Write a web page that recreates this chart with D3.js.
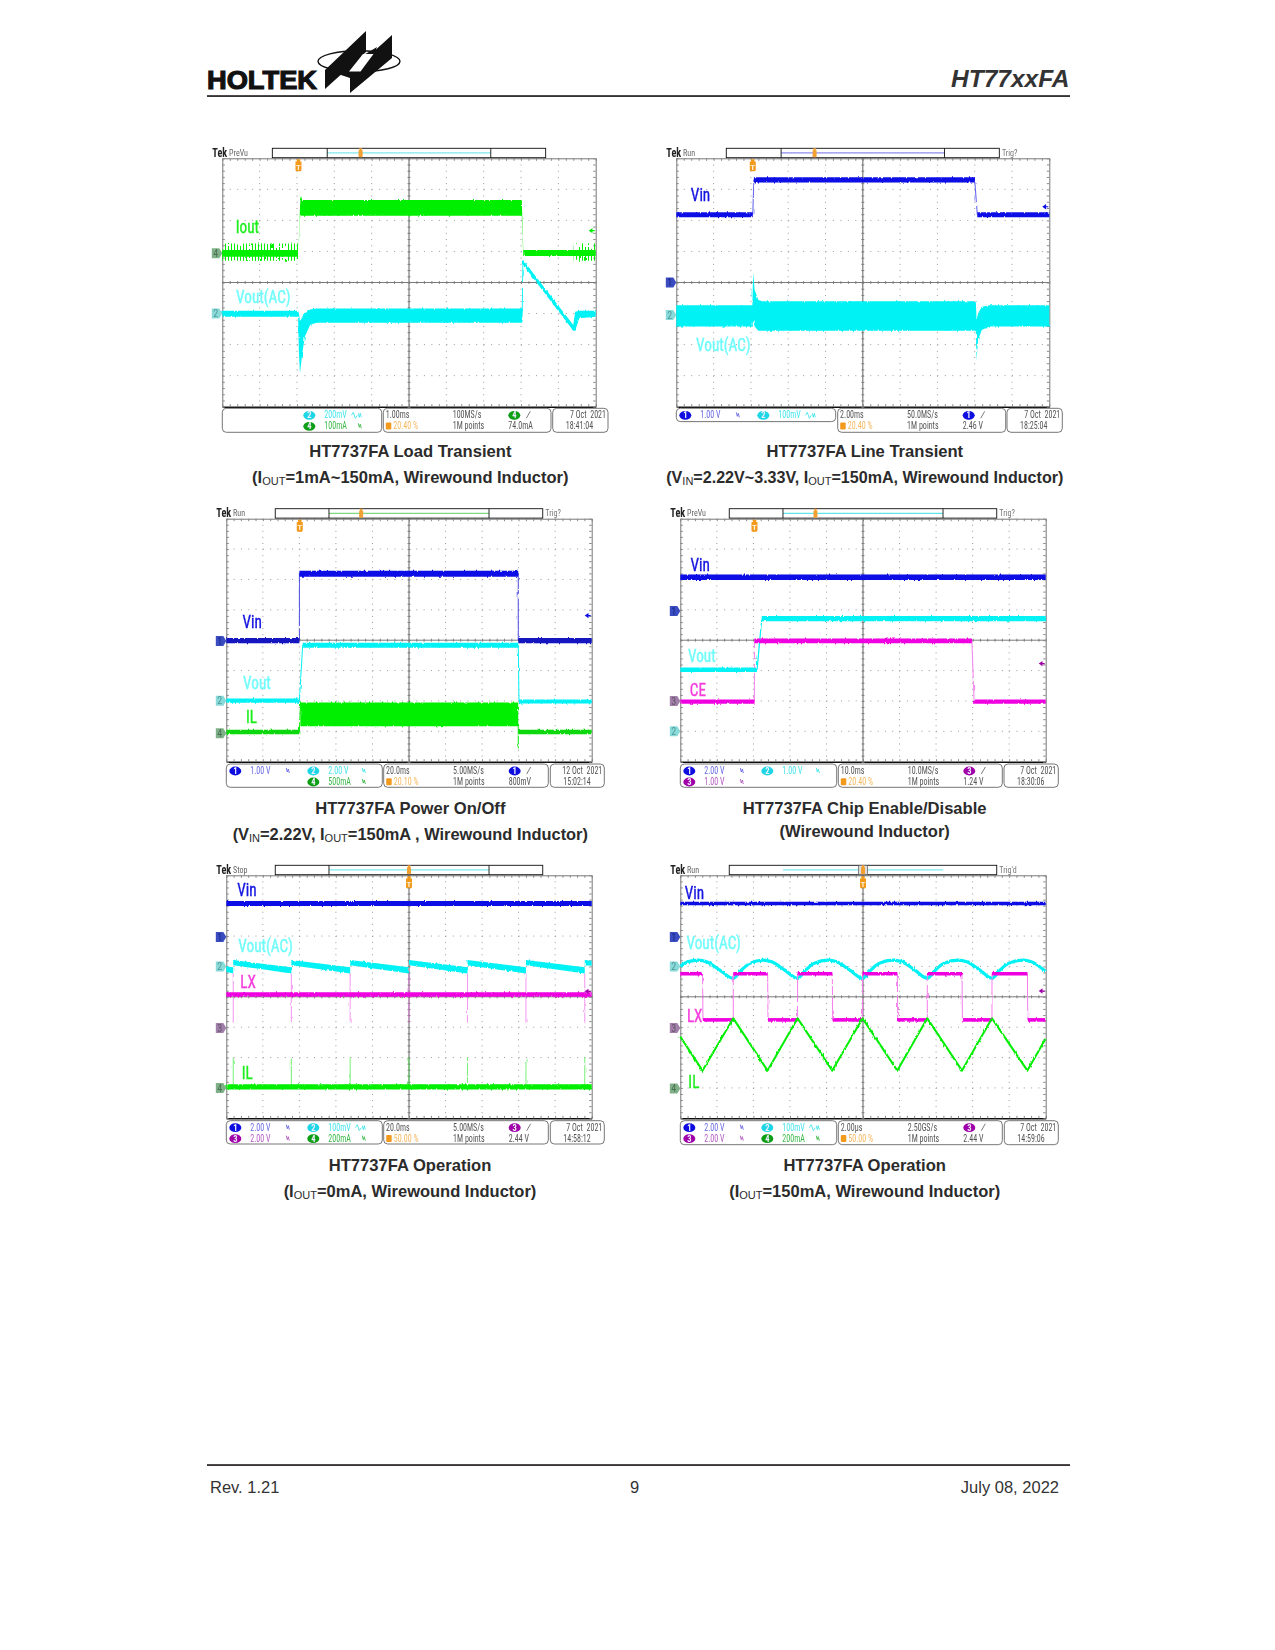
<!DOCTYPE html>
<html><head><meta charset="utf-8">
<script src="https://cdn.jsdelivr.net/npm/d3@7/dist/d3.min.js"></script>
<style>
html,body{margin:0;padding:0;background:#fff}
svg{display:block}
text{font-family:"Liberation Sans",Arial,sans-serif}
.n{font-family:"Liberation Sans Narrow","Roboto Condensed","Liberation Sans",sans-serif}
</style></head><body>
<svg id="page" width="1275" height="1650"></svg>
<script>
// ---------- trace values, in oscilloscope divisions (x 0..10, row 0..8 from the top) ----------
// Panel 1: load transient
const p1IoutT=[2.04,2.08,2.10,2.14,8.02,8.06], p1IoutHi=[3.0,1.6,1.18,1.34,1.34,2.95], p1IoutLo=[3.1,1.85,1.85,1.85,1.85,3.15];
const p1IoutIdleT=[0,2.03], p1IoutIdleHi=[2.95,2.95], p1IoutIdleLo=[3.17,3.17];
const p1IoutHairA=[0,2.03], p1IoutHairHi=[2.74,2.74], p1IoutHairLo=[3.30,3.30];
const p1IoutTailT=[8.06,10], p1IoutTailHi=[2.95,2.95], p1IoutTailLo=[3.15,3.15];
const p1IoutHairB=[9.41,10];
const p1VoutT=[0,2.03,2.05,2.08,2.14,2.21,2.35,2.53,8.02,8.04,8.06,9.40,9.45,9.56,10];
const p1VoutHi=[4.91,4.91,5.0,5.21,5.1,5.0,4.87,4.84,4.84,3.28,3.28,5.37,4.94,4.91,4.91];
const p1VoutLo=[5.1,5.1,6.2,6.93,6.3,5.75,5.37,5.3,5.3,5.3,3.44,5.55,5.55,5.15,5.1];
// Panel 2: line transient
const p2VinLowAT=[0,2.05], p2VinLowHi=[1.74,1.74], p2VinLowLo=[1.9,1.9];
const p2VinHighT=[2.08,8.0], p2VinHighHi=[0.61,0.61], p2VinHighLo=[0.78,0.78];
const p2VinLowBT=[8.07,10];
const p2VinStepT=[2.05,2.08,8.0,8.07], p2VinStepV=[1.82,0.7,0.7,1.82];
const p2VoutT=[0,2.04,2.06,2.10,2.2,2.3,8.0,8.03,8.05,8.09,8.19,8.4,10];
const p2VoutHi=[4.73,4.73,3.65,4.24,4.56,4.6,4.6,4.6,5.2,5.0,4.78,4.73,4.73];
const p2VoutLo=[5.42,5.42,5.2,5.42,5.55,5.55,5.55,5.55,6.48,5.85,5.53,5.42,5.42];
// Panel 3: power on/off
const p3VinLowAT=[0,2.0], p3VinLowBT=[7.99,10], p3VinLowHi=[3.93,3.93], p3VinLowLo=[4.1,4.1];
const p3VinHighT=[2.0,7.99], p3VinHighHi=[1.71,1.71], p3VinHighLo=[1.91,1.91];
const p3VinStepT=[2.0,2.0,7.99,7.99], p3VinStepV=[4.0,1.8,1.8,4.0];
const p3VoutLowAT=[0,2.0], p3VoutLowAHi=[5.92,5.92], p3VoutLowALo=[6.06,6.06];
const p3VoutHighT=[2.09,7.99], p3VoutHighHi=[4.08,4.08], p3VoutHighLo=[4.25,4.25];
const p3VoutLowBT=[8.01,10], p3VoutLowBHi=[5.95,5.95], p3VoutLowBLo=[6.08,6.08];
const p3VoutStepT=[2.0,2.09,7.99,8.01], p3VoutStepV=[6.0,4.17,4.17,6.0];
const p3IlLowAT=[0,2.0], p3IlLowBT=[7.99,10], p3IlLowHi=[6.95,6.95], p3IlLowLo=[7.1,7.1];
const p3IlHighT=[2.03,7.99], p3IlHighHi=[6.05,6.05], p3IlHighLo=[6.83,6.83];
const p3IlStepT=[2.0,2.03], p3IlStepV=[7.02,6.1];
const p3IlDropT=[7.99,7.99], p3IlDropV=[6.8,7.56];
// Panel 4: chip enable
const p4VinT=[0,10], p4VinHi=[1.84,1.84], p4VinLo=[2.02,2.02];
const p4VoutLowT=[0,2.1], p4VoutLowHi=[4.9,4.9], p4VoutLowLo=[5.05,5.05];
const p4VoutHighT=[2.23,10], p4VoutHighHi=[3.2,3.2], p4VoutHighLo=[3.38,3.38];
const p4VoutStepT=[2.1,2.23], p4VoutStepV=[4.97,3.29];
const p4CeLowAT=[0,2.03], p4CeLowBT=[8.04,10], p4CeLowHi=[5.95,5.95], p4CeLowLo=[6.09,6.09];
const p4CeHighT=[2.03,7.98], p4CeHighHi=[3.94,3.94], p4CeHighLo=[4.1,4.1];
const p4CeStepT=[2.03,2.03,7.98,8.04], p4CeStepV=[6.02,4.02,4.02,6.02];
// Panel 5: operation, no load
const p5VinT=[0,10], p5VinHi=[0.85,0.85], p5VinLo=[1.01,1.01];
const p5LxT=[0,10], p5LxHi=[3.85,3.85], p5LxLo=[4.0,4.0];
const p5IlT=[0,10], p5IlHi=[6.88,6.88], p5IlLo=[7.05,7.05];
const p5PulseT=[0.19,1.78,3.39,5.0,6.6,8.2,9.81];
const p5LxSpikeTop=[3.23,3.23,3.23,3.23,3.23,3.23,3.23], p5LxSpikeBottom=[4.85,4.85,4.85,4.85,4.85,4.85,4.85];
const p5IlSpikeTop=[6.0,6.0,6.0,6.0,6.0,6.05,6.0], p5IlSpikeBottom=[6.95,6.95,6.95,6.95,6.95,6.95,6.95];
const p5VoutT=[0,0.19,0.19,1.78,1.78,3.39,3.39,5.0,5.0,6.6,6.6,8.2,8.2,9.81,9.81,10];
const p5VoutHi=[3.0,3.03,2.79,3.03,2.79,3.03,2.79,3.03,2.79,3.03,2.79,3.03,2.79,3.03,2.79,2.81];
const p5VoutLo=[3.18,3.23,2.96,3.23,2.96,3.23,2.96,3.23,2.96,3.23,2.96,3.23,2.96,3.23,2.96,2.98];
// Panel 6: operation, 150 mA
const p6VinT=[0,10], p6VinHi=[0.87,0.87], p6VinLo=[0.99,0.99];
const p6VoutT=[0,0.2,0.49,0.72,1.08,1.45,1.63,1.9,2.27,2.5,2.86,3.21,3.39,3.66,4.05,4.28,4.64,4.99,5.17,5.44,5.83,6.06,6.42,6.76,6.94,7.21,7.61,7.84,8.2,8.53,8.71,8.98,9.39,9.62,10];
const p6VoutV=[3.0,2.85,2.79,2.85,3.12,3.39,3.17,2.9,2.79,2.85,3.12,3.39,3.17,2.9,2.79,2.85,3.12,3.39,3.17,2.9,2.79,2.85,3.12,3.39,3.17,2.9,2.79,2.85,3.12,3.39,3.17,2.9,2.79,2.85,3.17];
const p6LxStepT=[0,0.61,0.62,1.45,1.45,2.39,2.40,3.21,3.21,4.16,4.17,4.99,4.99,5.94,5.95,6.76,6.76,7.71,7.72,8.53,8.53,9.5,9.51,10];
const p6LxStepV=[3.24,3.24,4.76,4.76,3.24,3.24,4.76,4.76,3.24,3.24,4.76,4.76,3.24,3.24,4.76,4.76,3.24,3.24,4.76,4.76,3.24,3.24,4.76,4.76];
const p6IlT=[0,0.61,1.45,2.39,3.21,4.16,4.99,5.94,6.76,7.71,8.53,9.5,10];
const p6IlV=[5.31,6.43,4.71,6.43,4.71,6.43,4.71,6.43,4.71,6.43,4.71,6.43,5.37];

// ---------- text ----------
const panelModes=["PreVu","Run","Run","PreVu","Stop","Run"];
const panelTrig=["","Trig?","Trig?","Trig?","","Trig'd"];
const timeScales=["1.00ms","2.00ms","20.0ms","10.0ms","20.0ms","2.00µs"];
const triggerPercents=["20.40 %","20.40 %","20.10 %","20.40 %","50.00 %","50.00 %"];
const sampleRates=["100MS/s","50.0MS/s","5.00MS/s","10.0MS/s","5.00MS/s","2.50GS/s"];
const triggerChannels=[4,1,1,3,3,3];
const triggerLevels=["74.0mA","2.46 V","800mV","1.24 V","2.44 V","2.44 V"];
const dates=["7 Oct\u00a0\u00a02021","7 Oct\u00a0\u00a02021","12 Oct\u00a0\u00a02021","7 Oct\u00a0\u00a02021","7 Oct\u00a0\u00a02021","7 Oct\u00a0\u00a02021"];
const times=["18:41:04","18:25:04","15:02:14","18:30:06","14:58:12","14:59:06"];
const triggerT=[2.04,2.05,2.01,2.03,5,5];
const caption1=["HT7737FA Load Transient","HT7737FA Line Transient","HT7737FA Power On/Off","HT7737FA Chip Enable/Disable","HT7737FA Operation","HT7737FA Operation"];
const caption2=[
 [["(I"],["OUT",1],["=1mA~150mA, Wirewound Inductor)"]],
 [["(V"],["IN",1],["=2.22V~3.33V, I"],["OUT",1],["=150mA, Wirewound Inductor)"]],
 [["(V"],["IN",1],["=2.22V, I"],["OUT",1],["=150mA , Wirewound Inductor)"]],
 [["(Wirewound Inductor)"]],
 [["(I"],["OUT",1],["=0mA, Wirewound Inductor)"]],
 [["(I"],["OUT",1],["=150mA, Wirewound Inductor)"]]];
// channel readouts: id, scale, AC?, column, row
const readouts=[
 [[2,"200mV",1,1,0],[4,"100mA",0,1,1]],
 [[1,"1.00 V",0,0,0],[2,"100mV",1,1,0]],
 [[1,"1.00 V",0,0,0],[2,"2.00 V",0,1,0],[4,"500mA",0,1,1]],
 [[1,"2.00 V",0,0,0],[2,"1.00 V",0,1,0],[3,"1.00 V",0,0,1]],
 [[1,"2.00 V",0,0,0],[2,"100mV",1,1,0],[3,"2.00 V",0,0,1],[4,"200mA",0,1,1]],
 [[1,"2.00 V",0,0,0],[2,"100mV",1,1,0],[3,"2.00 V",0,0,1],[4,"200mA",0,1,1]]];
const groundRefs=[[[4,3.06],[2,5.0]],[[1,4.0],[2,5.05]],[[1,4.03],[2,5.99],[4,7.06]],[[1,3.04],[3,6.0],[2,7.0]],[[1,2.03],[2,3.0],[3,5.03],[4,7.0]],[[1,2.03],[2,3.0],[3,5.03],[4,7.02]]];
const levelArrows=[[4,2.33],[1,1.56],[1,3.19],[3,4.77],[3,3.82],[3,3.81]];
const traceLabels=[
 [["Iout",4,.36,2.42],["Vout(AC)",2,.37,4.67]],
 [["Vin",1,.39,1.36],["Vout(AC)",2,.53,6.21]],
 [["Vin",1,.44,3.59],["Vout",2,.46,5.62],["IL",4,.54,6.74]],
 [["Vin",1,.28,1.72],["Vout",2,.21,4.71],["CE",3,.26,5.84]],
 [["Vin",1,.30,.68],["Vout(AC)",2,.33,2.51],["LX",3,.38,3.72],["IL",4,.42,6.7]],
 [["Vin",1,.12,.77],["Vout(AC)",2,.17,2.43],["LX",3,.18,4.83],["IL",4,.22,7.0]]];

// ---------- style and layout ----------
const trace={1:"#0a0ae6",2:"#00f2f5",3:"#f000e0",4:"#00ee00"};
const labelCol={1:"#1414e0",2:"#70fbfb",3:"#f43cdc",4:"#20ee20"};
const badge={1:"#1010e0",2:"#1fd6e6",3:"#a000a8",4:"#0a9e14"};
const readCol={1:"#6a6ae6",2:"#45e4ea",3:"#b45cc0",4:"#3cb84a"};
const refCol={1:"#3a4cc0",2:"#8adada",3:"#a080a8",4:"#80b088"};
const refText={1:"#18268c",2:"#4f9a9a",3:"#68506e",4:"#4a7052"};
const miniCol=["#7fe9ee","#8c8cf0","#7fd87f","#5fe6ea","#7fe9ee","#7fe9ee"];
const caption2Size=[16.5,16.1,16.4,16.5,16.5,16.5];
const frames=[
 {l:222.3,r:595.7,t:158.3,b:406.7,bt:408.3,bh:24,a:[222.3,381.7],bb:[383.3,551],c:[552.7,608],cx:410.3,y1:457.3,y2:483.3},
 {l:676.3,r:1049.3,t:158.3,b:406.7,bt:408.3,bh:24,a:[676.3,835.7],bb:[837.7,1005.7],c:[1007,1062.3],cx:864.8,y1:457.3,y2:483.3,short:1},
 {l:226.3,r:591.7,t:518.7,b:761.7,bt:764,bh:23.3,a:[226.3,382.3],bb:[383.7,548.3],c:[550.3,604.3],cx:410.3,y1:814,y2:840},
 {l:680.3,r:1045.7,t:518.7,b:761.7,bt:764,bh:23.3,a:[680.3,836.7],bb:[838.3,1002.3],c:[1004,1058.3],cx:864.7,y1:814,y2:837.3},
 {l:226.3,r:591.7,t:875.3,b:1118.3,bt:1120.7,bh:23.3,a:[226.3,382.3],bb:[383.7,548.3],c:[550.3,604.3],cx:410,y1:1171,y2:1197.3},
 {l:680.3,r:1045.7,t:875.3,b:1118.3,bt:1120.7,bh:24,a:[680.3,836.7],bb:[838.3,1002.3],c:[1004.3,1058.3],cx:864.7,y1:1171,y2:1197.3}];

const svg=d3.select("#page");
const defs=svg.append("defs");
defs.append("filter").attr("id","soft").attr("x","-2%").attr("y","-2%").attr("width","104%").attr("height","104%")
  .append("feGaussianBlur").attr("stdDeviation",0.42);
// oscilloscope edge fuzz: a rendering style only, the values stay those read above
const fuzz=defs.append("filter").attr("id","fuzz").attr("filterUnits","userSpaceOnUse").attr("x",200).attr("y",140).attr("width",880).attr("height",1000);
fuzz.append("feTurbulence").attr("type","fractalNoise").attr("baseFrequency","0.55 0.12").attr("numOctaves",2).attr("seed",7).attr("result","n");
fuzz.append("feDisplacementMap").attr("in","SourceGraphic").attr("in2","n").attr("scale",2.6).attr("xChannelSelector","G").attr("yChannelSelector","R");
defs.append("pattern").attr("id","hair").attr("patternUnits","userSpaceOnUse").attr("width",3).attr("height",10)
  .append("rect").attr("width",1).attr("height",10).attr("fill",trace[4]);

// squeeze a text horizontally to the narrow glyphs of the scope screen
const squeeze=(sel,k)=>sel.each(function(){const w=this.getComputedTextLength();d3.select(this).attr("textLength",w*k).attr("lengthAdjust","spacingAndGlyphs");});

// ---------- page furniture ----------
const ink="#231f20";
svg.append("rect").attr("x",207).attr("y",95.2).attr("width",863).attr("height",1.7).attr("fill",ink);
svg.append("rect").attr("x",207).attr("y",1464.2).attr("width",863).attr("height",1.7).attr("fill",ink);
svg.append("text").attr("x",1069.5).attr("y",87).attr("text-anchor","end").attr("font-size",24.5).attr("font-weight",700).attr("font-style","italic").attr("fill","#333").text("HT77xxFA");
[["Rev. 1.21",210,"start"],["9",634.5,"middle"],["July 08, 2022",1059,"end"]].forEach(d=>
  svg.append("text").attr("x",d[1]).attr("y",1493).attr("text-anchor",d[2]).attr("font-size",16.5).attr("fill","#333").text(d[0]));
// logo
const logo=svg.append("g");
logo.append("ellipse").attr("cx",359).attr("cy",61.3).attr("rx",41).attr("ry",10.6).attr("fill","none").attr("stroke","#111").attr("stroke-width",1.4);
logo.append("path").attr("fill","#111").attr("d","M325 89V70L366 31V52ZM350 93V73L392 35V58ZM338 74L352 62L377 47L368 68L350 78Z");
logo.append("path").attr("fill","#fff").attr("d","M349 71.5H360.5L373.5 54H363Z");
logo.append("text").attr("x",207).attr("y",89).attr("font-size",25).attr("font-weight",700).attr("textLength",110).attr("lengthAdjust","spacingAndGlyphs").attr("fill","#111").attr("stroke","#111").attr("stroke-width",1.1).text("HOLTEK");

// ---------- panels ----------
function drawPanel(i,drawTraces){
  const f=frames[i], w=f.r-f.l, h=f.b-f.t;
  const x=d3.scaleLinear([0,10],[f.l,f.r]), y=d3.scaleLinear([0,8],[f.t,f.b]);
  const g=svg.append("g").attr("filter","url(#soft)");
  // dotted graticule
  const grid=g.append("g").attr("stroke","#9a9a9a").attr("stroke-width",1);
  grid.selectAll(".gh").data(d3.range(1,8)).join("line").attr("x1",f.l).attr("x2",f.r).attr("y1",d=>y(d)).attr("y2",d=>y(d)).attr("stroke-dasharray",`1 ${w/50-1}`);
  grid.selectAll(".gv").data(d3.range(1,10)).join("line").attr("y1",f.t).attr("y2",f.b).attr("x1",d=>x(d)).attr("x2",d=>x(d)).attr("stroke-dasharray",`1 ${h/40-1}`);
  // frame & tick axes
  const minorX=d3.range(0,10.01,.2), minorY=d3.range(0,8.01,.2);
  const ax=(s,t)=>g.append("g").call(s).call(a=>a.selectAll("path").attr("stroke",t.c).attr("stroke-width",t.w))
     .call(a=>a.selectAll("line").attr("stroke",t.tc||"#8a8a8a")).attr("transform",t.tr).call(a=>a.selectAll("text").remove());
  ax(d3.axisBottom(x).tickValues(minorX).tickSize(2.5).tickSizeOuter(0),{c:"#777",w:1,tr:`translate(0,${f.t})`});
  ax(d3.axisTop(x).tickValues(minorX).tickSize(2.5).tickSizeOuter(0),{c:"#111",w:1.6,tr:`translate(0,${f.b})`});
  ax(d3.axisRight(y).tickValues(minorY).tickSize(2.5).tickSizeOuter(0),{c:"#777",w:1,tr:`translate(${f.l},0)`});
  ax(d3.axisLeft(y).tickValues(minorY).tickSize(2.5).tickSizeOuter(0),{c:"#777",w:1,tr:`translate(${f.r},0)`});
  [[d3.axisBottom(x).tickValues(minorX),`translate(0,${y(4)-1.5})`],[d3.axisRight(y).tickValues(minorY),`translate(${x(5)-1.5},0)`]].forEach(d=>{
    ax(d[0].tickSize(3).tickSizeOuter(0),{c:"none",w:0,tr:d[1]});
  });
  g.append("line").attr("x1",f.l).attr("x2",f.r).attr("y1",y(4)).attr("y2",y(4)).attr("stroke","#7a7a7a").attr("stroke-width",1);
  g.append("line").attr("x1",x(5)).attr("x2",x(5)).attr("y1",f.t).attr("y2",f.b).attr("stroke","#7a7a7a").attr("stroke-width",1.2);

  const plot=g.append("g").attr("filter","url(#fuzz)");
  const api={
    band(T,Hi,Lo,c,fill){
      plot.append("path").attr("fill",fill||c).attr("d",d3.area().x((d,k)=>x(T[k])).y0((d,k)=>y(Hi[k])).y1((d,k)=>y(Lo[k]))(T));
    },
    line(T,V,c,lw,op,curve){
      const ln=d3.line().x((d,k)=>x(T[k])).y((d,k)=>y(V[k]));
      if(curve) ln.curve(curve);
      plot.append("path").attr("fill","none").attr("stroke",c).attr("stroke-width",lw).attr("stroke-opacity",op==null?1:op).attr("stroke-linejoin","round").attr("d",ln(T));
    },
    spikes(T,Top,Bot,c){
      plot.selectAll(null).data(T).join("line").attr("x1",d=>x(d)).attr("x2",d=>x(d)).attr("y1",(d,k)=>y(Top[k])).attr("y2",(d,k)=>y(Bot[k])).attr("stroke",c).attr("stroke-width",.9).attr("stroke-opacity",.75);
    }
  };
  drawTraces(api);
  // trace labels
  g.selectAll(".tl").data(traceLabels[i]).join("text").attr("class","n").attr("x",d=>x(d[2])).attr("y",d=>y(d[3])).attr("font-size",17.5).attr("fill",d=>labelCol[d[1]]).attr("stroke",d=>labelCol[d[1]]).attr("stroke-width",.35).text(d=>d[0]).call(squeeze,.87);
  // channel ground references
  groundRefs[i].forEach(d=>{
    const yy=y(d[1]), rg=g.append("g").attr("transform",`translate(${f.l},${yy})`);
    rg.append("path").attr("d","M-10.5 -5H-3L0 0L-3 5H-10.5Z").attr("fill",refCol[d[0]]);
    rg.append("text").attr("class","n").attr("x",-6.7).attr("y",3.6).attr("text-anchor","middle").attr("font-size",10).attr("fill",refText[d[0]]).text(d[0]);
  });
  // level arrow
  g.append("path").attr("transform",`translate(${f.r-2.5},${y(levelArrows[i][1])})`).attr("d","M-4.5 0L-.7 -2.7V2.7Z M-1 -.6H1.5V.6H-1Z").attr("fill",trace[levelArrows[i][0]]==trace[3]?badge[3]:trace[levelArrows[i][0]]);
  // trigger position marker
  const tx=x(triggerT[i]);
  g.append("path").attr("transform",`translate(${tx},${f.t})`).attr("d","M-2 1H2L1.5 3.2H3V11.5Q3 13 1.5 13H-1.5Q-3 13 -3 11.5V3.2H-1.5Z").attr("fill","#f29a1f");
  g.append("text").attr("x",tx).attr("y",f.t+11.5).attr("text-anchor","middle").attr("font-size",8).attr("font-weight",700).attr("fill","#fff2dc").text("T");
  // record bar
  const fx=p=>f.l+w*p, bar=g.append("g");
  bar.append("rect").attr("x",fx(.134)).attr("y",f.t-10).attr("width",w*.732).attr("height",9.4).attr("fill","#fff").attr("stroke","#111").attr("stroke-width",.9);
  if(i<5){
    bar.append("line").attr("x1",fx(.281)).attr("x2",fx(.719)).attr("y1",f.t-5.4).attr("y2",f.t-5.4).attr("stroke",miniCol[i]).attr("stroke-width",1.2);
    [.281,.719].forEach(p=>bar.append("line").attr("x1",fx(p)).attr("x2",fx(p)).attr("y1",f.t-10).attr("y2",f.t-.6).attr("stroke","#111").attr("stroke-width",.9));
  } else {
    [[.281,.487],[.513,.719]].forEach(p=>bar.append("line").attr("x1",fx(p[0])).attr("x2",fx(p[1])).attr("y1",f.t-5.4).attr("y2",f.t-5.4).attr("stroke",miniCol[i]).attr("stroke-width",1.2));
    bar.append("rect").attr("x",fx(.488)).attr("y",f.t-10).attr("width",w*.024).attr("height",9.4).attr("fill","#ddd").attr("stroke","#555").attr("stroke-width",.7);
  }
  const mx=i<4?fx(.281)+(fx(.719)-fx(.281))*triggerT[i]/10:fx(.5);
  bar.append("path").attr("transform",`translate(${mx},${f.t-10})`).attr("d","M-1.5 0H1.5L1 2H2V8Q2 9 1 9H-1Q-2 9 -2 8V2H-1Z").attr("fill","#f2a030");
  // header text
  g.append("text").attr("class","n").attr("x",f.l-10).attr("y",f.t-1.5).attr("font-size",12).attr("font-weight",700).attr("fill","#222").text("Tek").call(squeeze,.85);
  g.append("text").attr("class","n").attr("x",f.l+6.8).attr("y",f.t-2.5).attr("font-size",9.8).attr("fill","#666").text(panelModes[i]).call(squeeze,.82);
  if(panelTrig[i]) g.append("text").attr("class","n").attr("x",fx(.866)+2.6).attr("y",f.t-2.5).attr("font-size",9.8).attr("fill","#777").text(panelTrig[i]).call(squeeze,.82);

  // status boxes
  const st=g.append("g");
  const box=(a,hh)=>st.append("rect").attr("x",a[0]).attr("y",f.bt).attr("width",a[1]-a[0]).attr("height",hh).attr("rx",4).attr("fill","#fff").attr("stroke","#666").attr("stroke-width",.9);
  box(f.a,f.short?13.3:f.bh); box(f.bb,f.bh); box(f.c,f.bh);
  const r0=f.bt+10, r1=f.bt+21;
  const txt=(s,xx,yy,c,anchor)=>st.append("text").attr("class","n").attr("x",xx).attr("y",yy).attr("font-size",10).attr("fill",c).attr("text-anchor",anchor||"start").text(s).call(squeeze,.8);
  const chip=(ch,cx,yy)=>{
    st.append("ellipse").attr("cx",cx).attr("cy",yy-3).attr("rx",6).attr("ry",4.4).attr("fill",badge[ch]);
    st.append("text").attr("class","n").attr("x",cx).attr("y",yy).attr("font-size",8.5).attr("font-weight",700).attr("text-anchor","middle").attr("fill","#eef").text(ch);
  };
  readouts[i].forEach(d=>{
    const base=d[3]?87:9, yy=d[4]?r1:r0, ax0=f.a[0];
    chip(d[0],ax0+base,yy);
    txt(d[1],ax0+base+15,yy,readCol[d[0]]);
    const ix=ax0+base+(d[3]?49:51);
    const ic=st.append("path").attr("fill","none").attr("stroke",readCol[d[0]]).attr("stroke-width",.9);
    ic.attr("d",d[2]?`M${ix-7} ${yy-3}l2 -3l2 6l2 -3 M${ix} ${yy-5}l1 4l1 -4l1 4`:`M${ix} ${yy-6}l1 4l1 -3l1 4`);
  });
  const bx=f.bb[0];
  txt(timeScales[i],bx+2.4,r0,"#555");
  st.append("rect").attr("x",bx+2.5).attr("y",r1-6.7).attr("width",5.5).attr("height",7).attr("rx",1).attr("fill","#f29a1f");
  txt(triggerPercents[i],bx+10,r1,"#f4b860");
  txt(sampleRates[i],bx+69.4,r0,"#555");
  txt("1M points",bx+69.4,r1,"#555");
  chip(triggerChannels[i],bx+131,r0);
  st.append("path").attr("d",`M${bx+143} ${r0}l4 -7`).attr("stroke","#444").attr("stroke-width",.7);
  txt(triggerLevels[i],bx+125,r1,"#555");
  txt(dates[i],f.c[1]-2,r0,"#555","end");
  txt(times[i],f.c[0]+13,r1,"#555");

  // captions (not blurred)
  svg.append("text").attr("x",f.cx).attr("y",f.y1).attr("text-anchor","middle").attr("font-size",16.6).attr("font-weight",700).attr("fill","#2b2b2b").text(caption1[i]);
  const c2=svg.append("text").attr("x",f.cx).attr("y",f.y2).attr("text-anchor","middle").attr("font-size",caption2Size[i]).attr("font-weight",700).attr("fill","#2b2b2b");
  caption2[i].forEach(p=>{
    const s=c2.append("tspan").text(p[0]);
    if(p[1]) s.attr("font-size",11).attr("font-weight",400).attr("baseline-shift","-1.5");
  });
}

drawPanel(0,p=>{
  p.band(p1IoutHairA,p1IoutHairHi,p1IoutHairLo,trace[4],"url(#hair)");
  p.band(p1IoutIdleT,p1IoutIdleHi,p1IoutIdleLo,trace[4]);
  p.band(p1IoutT,p1IoutHi,p1IoutLo,trace[4]);
  p.band(p1IoutTailT,p1IoutTailHi,p1IoutTailLo,trace[4]);
  p.band(p1IoutHairB,p1IoutHairHi,p1IoutHairLo,trace[4],"url(#hair)");
  p.band(p1VoutT,p1VoutHi,p1VoutLo,trace[2]);
});
drawPanel(1,p=>{
  p.line(p2VinStepT,p2VinStepV,"#6a6af0",1.1);
  p.band(p2VinLowAT,p2VinLowHi,p2VinLowLo,trace[1]);
  p.band(p2VinHighT,p2VinHighHi,p2VinHighLo,trace[1]);
  p.band(p2VinLowBT,p2VinLowHi,p2VinLowLo,trace[1]);
  p.band(p2VoutT,p2VoutHi,p2VoutLo,trace[2]);
});
drawPanel(2,p=>{
  p.line(p3VinStepT,p3VinStepV,"#4a4ae0",1);
  p.band(p3VinLowAT,p3VinLowHi,p3VinLowLo,"#1414c0");
  p.band(p3VinLowBT,p3VinLowHi,p3VinLowLo,"#1414c0");
  p.band(p3VinHighT,p3VinHighHi,p3VinHighLo,trace[1]);
  p.line(p3VoutStepT,p3VoutStepV,trace[2],1);
  p.band(p3VoutLowAT,p3VoutLowAHi,p3VoutLowALo,trace[2]);
  p.band(p3VoutHighT,p3VoutHighHi,p3VoutHighLo,trace[2]);
  p.band(p3VoutLowBT,p3VoutLowBHi,p3VoutLowBLo,trace[2]);
  p.line(p3IlStepT,p3IlStepV,trace[4],1);
  p.line(p3IlDropT,p3IlDropV,trace[4],1);
  p.band(p3IlLowAT,p3IlLowHi,p3IlLowLo,"#10d810");
  p.band(p3IlLowBT,p3IlLowHi,p3IlLowLo,"#10d810");
  p.band(p3IlHighT,p3IlHighHi,p3IlHighLo,trace[4]);
});
drawPanel(3,p=>{
  p.band(p4VinT,p4VinHi,p4VinLo,trace[1]);
  p.line(p4VoutStepT,p4VoutStepV,trace[2],1.2);
  p.band(p4VoutLowT,p4VoutLowHi,p4VoutLowLo,trace[2]);
  p.band(p4VoutHighT,p4VoutHighHi,p4VoutHighLo,trace[2]);
  p.line(p4CeStepT,p4CeStepV,"#f48cee",1.1);
  p.band(p4CeLowAT,p4CeLowHi,p4CeLowLo,trace[3]);
  p.band(p4CeLowBT,p4CeLowHi,p4CeLowLo,trace[3]);
  p.band(p4CeHighT,p4CeHighHi,p4CeHighLo,trace[3]);
});
drawPanel(4,p=>{
  p.band(p5VinT,p5VinHi,p5VinLo,trace[1]);
  p.band(p5VoutT,p5VoutHi,p5VoutLo,trace[2]);
  p.spikes(p5PulseT,p5LxSpikeTop,p5LxSpikeBottom,"#f060e8");
  p.band(p5LxT,p5LxHi,p5LxLo,trace[3]);
  p.spikes(p5PulseT,p5IlSpikeTop,p5IlSpikeBottom,"#30e830");
  p.band(p5IlT,p5IlHi,p5IlLo,trace[4]);
});
drawPanel(5,p=>{
  p.band(p6VinT,p6VinHi,p6VinLo,trace[1]);
  p.line(p6VoutT,p6VoutV,trace[2],3.2,1,d3.curveMonotoneX);
  p.line(p6LxStepT,p6LxStepV,"#f47cec",1);
  // thick flat parts of the switching node
  for(let k=0;k<p6LxStepT.length-1;k++){
    if(p6LxStepV[k]===p6LxStepV[k+1]) p.line([p6LxStepT[k],p6LxStepT[k+1]],[p6LxStepV[k],p6LxStepV[k+1]],trace[3],3.6);
  }
  p.line(p6IlT,p6IlV,trace[4],2);
});
</script>
</body></html>
